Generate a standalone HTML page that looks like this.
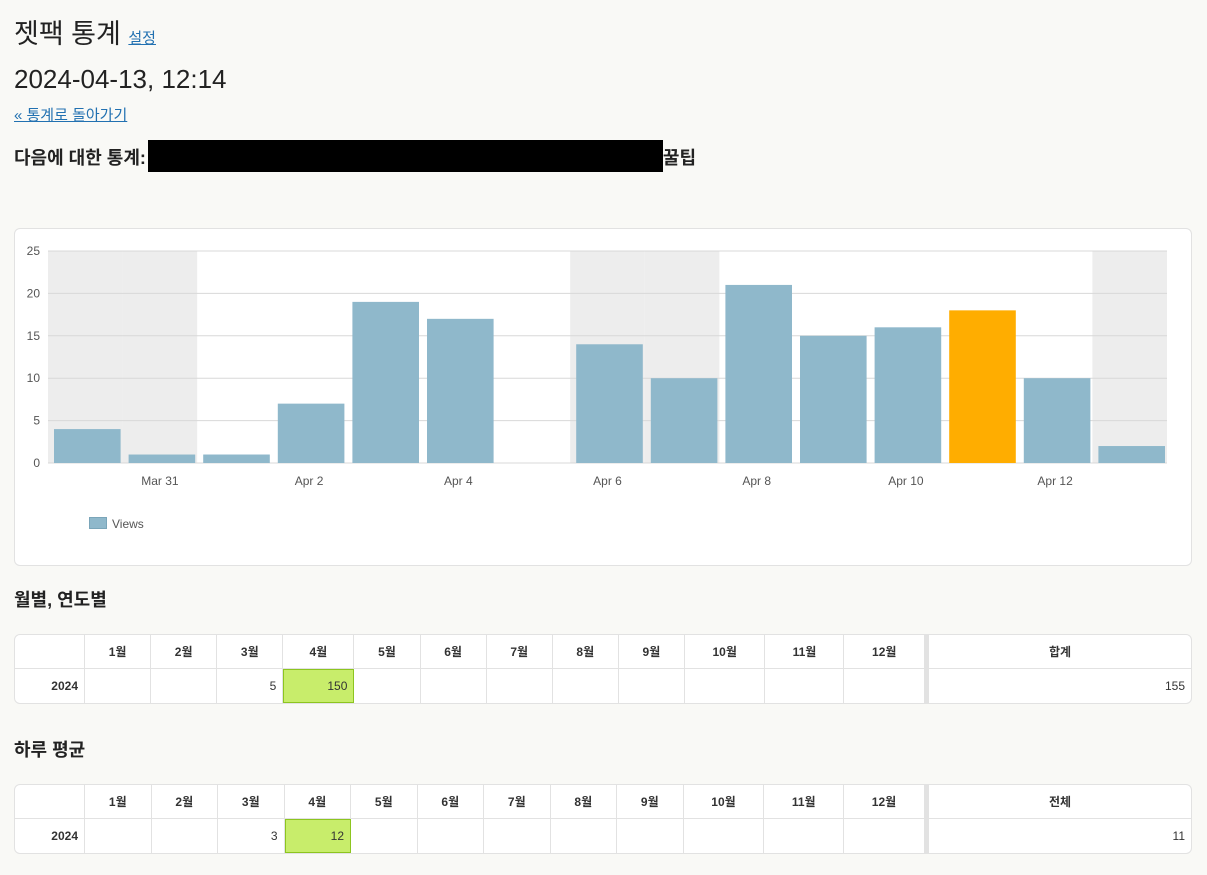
<!DOCTYPE html>
<html><head><meta charset="utf-8">
<style>
body{margin:0;background:#f9f9f6;font-family:"Liberation Sans","Noto Sans CJK KR",sans-serif;color:#222;width:1207px;height:875px;position:relative;overflow:hidden}
.abs{position:absolute;margin:0}
a{color:#2271b1}
table{border-collapse:separate;border-spacing:0;background:#fff;border:1px solid #e2e2e2;border-radius:6px;position:absolute;left:14px;width:1178px;font-size:12px}
td,th{border-right:1px solid #e2e2e2;height:33px;padding:0 6px;color:#333}
th{font-weight:bold;text-align:center;border-bottom:1px solid #e2e2e2}
td{text-align:right}
tr:last-child td{height:34px}
td.y{font-weight:bold}
.hl{background:#c8ed6b;outline:1px solid #8dc520;outline-offset:-1px}
.tot{border-left:4px solid #e2e2e2}
th:last-child,td:last-child{border-right:none}
</style></head><body>
<h1 class="abs" style="left:14px;top:12px;font-size:27px;font-weight:normal">젯팩 통계 <a href="#" style="font-size:15px">설정</a></h1>
<div class="abs" style="left:14px;top:64px;font-size:26px">2024-04-13, 12:14</div>
<a class="abs" href="#" style="left:14px;top:104px;font-size:15px">« 통계로 돌아가기</a>
<div class="abs" style="left:14px;top:144px;font-size:18px;font-weight:bold">다음에 대한 통계:<span style="display:inline-block;width:515px;height:32px;background:#000;vertical-align:middle;margin:-6px 0 0 2px"></span>꿀팁</div>
<div class="abs" style="left:14px;top:228px;width:1176px;height:336px;background:#fff;border:1px solid #e2e2e2;border-radius:6px"></div>
<svg class="abs" id="chart" style="left:0;top:0" width="1207" height="600"></svg>
<div class="abs" style="left:89px;top:517px;font-size:12px;color:#555"><span style="display:inline-block;width:16px;height:10px;background:#8fb8cb;border:1px solid #7aa5b9;vertical-align:-1px;margin-right:5px"></span>Views</div>

<div class="abs" style="left:14px;top:586px;font-size:18px;font-weight:bold">월별, 연도별</div>
<table style="top:634px">
<tr><th style="width:57px"></th><th>1월</th><th>2월</th><th>3월</th><th>4월</th><th>5월</th><th>6월</th><th>7월</th><th>8월</th><th>9월</th><th>10월</th><th>11월</th><th>12월</th><th class="tot" style="width:250px">합계</th></tr>
<tr><td class="y">2024</td><td></td><td></td><td>5</td><td class="hl">150</td><td></td><td></td><td></td><td></td><td></td><td></td><td></td><td></td><td class="tot">155</td></tr>
</table>
<div class="abs" style="left:14px;top:736px;font-size:18px;font-weight:bold">하루 평균</div>
<table style="top:784px">
<tr><th style="width:57px"></th><th>1월</th><th>2월</th><th>3월</th><th>4월</th><th>5월</th><th>6월</th><th>7월</th><th>8월</th><th>9월</th><th>10월</th><th>11월</th><th>12월</th><th class="tot" style="width:250px">전체</th></tr>
<tr><td class="y">2024</td><td></td><td></td><td>3</td><td class="hl">12</td><td></td><td></td><td></td><td></td><td></td><td></td><td></td><td></td><td class="tot">11</td></tr>
</table>
<script>
const categories=["Mar 30","Mar 31","Apr 1","Apr 2","Apr 3","Apr 4","Apr 5","Apr 6","Apr 7","Apr 8","Apr 9","Apr 10","Apr 11","Apr 12","Apr 13"];
const views=[4,1,1,7,19,17,0,14,10,21,15,16,18,10,2];
const weekend=[1,1,0,0,0,0,0,1,1,0,0,0,0,0,1];
const highlightIndex=12;
const yTicks=[0,5,10,15,20,25];
const xLabelIdx=[1,3,5,7,9,11,13];
const X0=48,X1=1167,Y0=463,Y1=251,YMAX=25;
const bw=(X1-X0)/categories.length;
const x=i=>X0+i*bw;
const y=v=>Y0-(v/YMAX)*(Y0-Y1);
const svg=document.getElementById('chart');
const NS='http://www.w3.org/2000/svg';
function mk(t,a){const e=document.createElementNS(NS,t);for(const k in a)e.setAttribute(k,a[k]);svg.appendChild(e);return e;}
weekend.forEach((w,i)=>{if(w){const r=mk('rect',{x:x(i),y:Y1,width:bw,height:Y0-Y1,fill:'#ededed'});

}});
yTicks.forEach(t=>{const l=mk('line',{x1:X0,x2:X1,y1:y(t),y2:y(t),stroke:'#d8d8d8'});


const tx=mk('text',{x:40,y:y(t)+4,'text-anchor':'end','font-size':12,fill:'#555','font-family':'Liberation Sans, sans-serif'});tx.textContent=t;

});
views.forEach((v,i)=>{const r=mk('rect',{x:x(i)+6,y:y(v),width:bw-8,height:Y0-y(v),fill:i===highlightIndex?'#ffad00':'#8fb8cb'});

});
xLabelIdx.forEach(i=>{const tx=mk('text',{x:x(i)+bw/2,y:485,'text-anchor':'middle','font-size':12,fill:'#555','font-family':'Liberation Sans, sans-serif'});tx.textContent=categories[i];

});
</script>
</body></html>
